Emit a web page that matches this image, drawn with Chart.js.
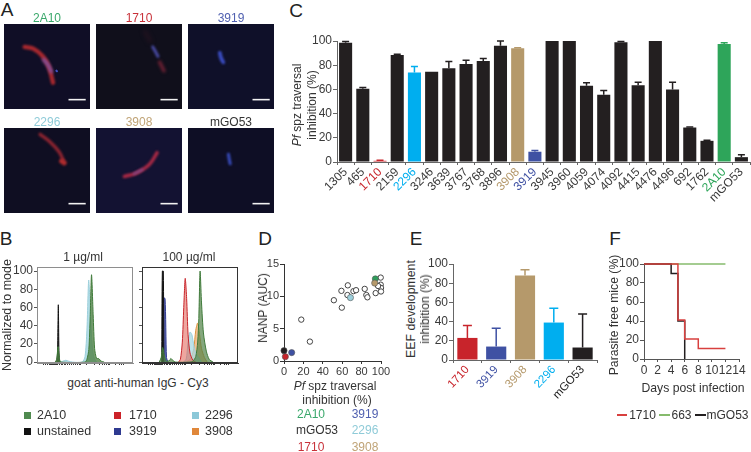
<!DOCTYPE html>
<html><head><meta charset="utf-8">
<style>
html,body{margin:0;padding:0;background:#fff;overflow:hidden}
#stage{position:relative;width:751px;height:452px;font-family:"Liberation Sans",Arial,sans-serif;color:#333}
canvas{position:absolute}
.t{position:absolute;white-space:nowrap;line-height:1;transform:translate(-50%,-50%)}
.r{transform:translate(-50%,-50%) rotate(-90deg)}
.sw{position:absolute;width:7px;height:7px}
.ln{position:absolute;height:1.5px}
</style>
<script src="https://cdn.jsdelivr.net/npm/chart.js@4/dist/chart.umd.js"></script>
</head><body><div id="stage"></div>
<script>
// ---------- Panel C
const cCategories=["1305","465","1710","2159","2296","3246","3639","3767","3768","3896","3908","3919","3945","3960","4059","4074","4092","4415","4476","4496","692","1762","2A10","mGO53"];
const cValues=[98.5,60.5,1,88.5,74,74.5,77.5,81,83.5,96,94,8.5,100,100,63,55.5,99,63.5,100,60,28.5,17.5,97.5,4];
const cErrorTop=[99.5,61.5,1.5,89,79,74.5,83,84,85.5,100,94.5,9.5,100,100,65.5,59,99.5,66,100,66,29,18,98.5,6];
const cColorKeys=["k","k","r","k","c","k","k","k","k","k","t","n","k","k","k","k","k","k","k","k","k","k","g","k"];
const yTicks100=[0,20,40,60,80,100];
// ---------- Panel E
const eCategories=["1710","3919","3908","2296","mGO53"];
const eValues=[23,14,88,39,13];
const eErrorTop=[36,33,94,54,48];
const eColorKeys=["r","n","t","c","k"];
// ---------- Panel F
const fDays1710=[0,5,6,8,12], fFree1710=[100,41,21,11,11];
const fDays663=[0,12], fFree663=[100,100];
const fDaysMGO=[0,4,5,6], fFreeMGO=[100,90,40,0];
// ---------- Panel D
const dOtherX=[17.8,26.7,51.4,59.2,59.6,65.8,65.4,71.6,74.3,83.2,84.9,86,94.5,99.7,99.7,100,100,97];
const dOtherY=[6.4,3.0,9.4,10.85,8.25,11.7,10.2,10.8,10.95,11.15,10.2,9.85,10.5,12.9,11.8,11.3,10.75,11.6];
const dKeyX=[94.2,93.5,68.5,7.9,1.4,0];
const dKeyY=[12.7,12.05,9.8,1.3,0.67,1.6];
const dKeyColors=["g","t","l","n","r","k"];
// ---------- Panel B (x = percent of the channel range, y = normalized to mode)
const bTicksX=[7,9,11,13,14,15,16,17,18,19,20,21,23,25,27,29,30,32,34,36,38,40,42,44,45,52,60,65,68,70,72,74,75,82,86,88,90];
const b1Unstained=[[20.5,0],[21.4,10],[22.2,63],[22.9,10],[23.6,0]];
const b1Green=[[19,0],[20.5,3],[22,17],[23.5,3],[25,0],[50,0],[52,3],[54,14],[55.4,50],[56.8,96],[58.5,52],[60,15],[62,4],[64,4],[67,1],[70,0]];
const b1Cyan=[[24,0],[27,1],[30,2],[33,1],[37,0],[47,0],[50,6],[52,35],[53.8,90],[55,70],[57,25],[59,6],[62,0]];
const b2Unstained=[[20.5,0],[21.2,100],[22.2,100],[22.8,0]];
const b2Navy=[[21.5,0],[22,70],[24,70],[25.5,5],[27,0]];
const b2Green=[[18,0],[20,5],[21.5,16],[23,8],[25,1],[27,1],[29,2],[30,4],[32,2],[35,0],[50,0],[53,1],[56,6],[58,22],[59.2,48],[60.5,100],[62,65],[64,32],[67,12],[70,3],[74,0]];
const b2Red=[[38,0],[40,3],[42,22],[43.5,60],[45,92],[46.5,70],[48,30],[50,10],[53,2],[56,0]];
const b2Cyan=[[43,0],[46,3],[48,22],[50,33],[52,30],[54,18],[56,10],[59,5],[62,0]];
const b2Orange=[[46,0],[50,3],[52,7],[54,15],[56,35],[58,43],[60,30],[62,15],[65,5],[68,0]];
const bYTicks=[0,20,40,60,80,100];
// ---------- Panel A (micrograph strokes, percent of the image)
const a2A10Red=[[24,27],[34,29],[45,38],[52,50],[57,69]];
const a2A10Blue=[[46,42],[51,48],[55,56]];
const a2A10Dot=[[61,55],[61.5,55.5]];
const a1710Blue=[[66,27],[70,34],[72,38]];
const a1710Red=[[74,45],[79,55]];
const a1710Faint=[[57,9],[63,20]];
const a3919Blue=[[37,34],[38.5,40],[41,45]];
const a2296Red=[[42,7.5],[53,16],[64,28],[69,38]];
const a2296Blob=[[67,39],[70,41]];
const a3908Red=[[33,57],[47,53],[62,43],[71,29]];
const a3908Blue=[[44,54],[54,49]];
const aMGOBlue=[[47,31],[48,37],[49,42]];
const aScaleX=[75,95];

const pal={k:"#231f20",r:"#c8242b",c:"#00aeef",t:"#b5996b",n:"#3f51a3",g:"#2ea55a",l:"#9ccfdb"};
Chart.defaults.font.family='"Liberation Sans",Arial,sans-serif';
Chart.defaults.font.size=12;
Chart.defaults.color="#3a3a3a";
Chart.defaults.animation=false;
Chart.defaults.responsive=false;
Chart.defaults.devicePixelRatio=1;
Chart.defaults.plugins.legend.display=false;
Chart.defaults.plugins.tooltip.enabled=false;
Chart.defaults.events=[];

const stage=document.getElementById("stage");
const pts=(xs,ys)=>xs.map((x,i)=>({x,y:ys[i]}));
const pairs=a=>a.map(p=>({x:p[0],y:p[1]}));

const errorBars={id:"errorBars",afterDatasetsDraw(ch){
  const ctx=ch.ctx,ds=ch.data.datasets[0],m=ch.getDatasetMeta(0),ys=ch.scales.y;
  if(!ds.errorTop)return;
  ctx.save();ctx.lineWidth=1.5;
  m.data.forEach((b,i)=>{
    if(ds.errorTop[i]<=ds.data[i])return;
    const c=ds.backgroundColor[i],top=ys.getPixelForValue(ds.errorTop[i]),w=ds.capHalf;
    ctx.strokeStyle=c;ctx.beginPath();
    ctx.moveTo(b.x,b.y);ctx.lineTo(b.x,top);ctx.moveTo(b.x-w,top);ctx.lineTo(b.x+w,top);ctx.stroke();
  });ctx.restore();
}};
const frame={id:"frame",afterDraw(ch){
  const col=ch.options.plugins.frame&&ch.options.plugins.frame.color;if(!col)return;
  const a=ch.chartArea,c=ch.ctx;c.save();c.strokeStyle=col;c.lineWidth=1;
  c.strokeRect(a.left+.5,a.top+.5,a.right-a.left-1,a.bottom-a.top-1);c.restore();
}};
const backdrop={id:"backdrop",beforeDraw(ch){
  const col=ch.options.plugins.backdrop&&ch.options.plugins.backdrop.color;if(!col)return;
  const c=ch.ctx;c.save();c.fillStyle=col;c.fillRect(0,0,ch.width,ch.height);c.restore();
},beforeDatasetDraw(ch,args){
  const b=ch.data.datasets[args.index].blur;if(b){ch.ctx.save();ch.ctx.filter="blur("+b+"px)";}
},afterDatasetDraw(ch,args){
  if(ch.data.datasets[args.index].blur){ch.ctx.restore();}
}};
Chart.register(errorBars,frame,backdrop);

function place(plot,pad,cfg){
  const c=document.createElement("canvas");
  c.width=plot.r-plot.l+pad.l+pad.r;c.height=plot.b-plot.t+pad.t+pad.b;
  c.style.left=(plot.l-pad.l)+"px";c.style.top=(plot.t-pad.t)+"px";
  stage.appendChild(c);
  cfg.options=cfg.options||{};
  cfg.options.layout={padding:{top:pad.t,right:pad.r,left:0,bottom:0}};
  const s=cfg.options.scales;
  if(s&&s.x&&s.x.display!==false)s.x.afterFit=a=>{a.height=pad.b;a.paddingLeft=0;a.paddingRight=0;};
  if(s&&s.y&&s.y.display!==false)s.y.afterFit=a=>{a.width=pad.l;a.paddingTop=0;a.paddingBottom=0;};
  return new Chart(c,cfg);
}
function axisY(extra,lineCol){return Object.assign({
  min:0,max:100,afterBuildTicks:a=>{a.ticks=yTicks100.map(v=>({value:v}));},
  grid:{drawOnChartArea:false,tickLength:4,color:lineCol||"#666",lineWidth:1},
  border:{color:lineCol||"#666",width:1},
  ticks:{padding:1,font:{size:12},autoSkip:false}},extra||{});}
function axisX(extra,lineCol){return Object.assign({
  grid:{drawOnChartArea:false,tickLength:3,color:lineCol||"#666",lineWidth:1},
  border:{color:lineCol||"#666",width:1}},extra||{});}

// Panel C bars
place({l:337,t:41,r:750,b:162},{l:34,t:10,r:1,b:50},{type:"bar",
  data:{labels:cCategories,datasets:[{data:cValues,errorTop:cErrorTop,capHalf:3.5,backgroundColor:cColorKeys.map(k=>pal[k]),barPercentage:.76,categoryPercentage:1}]},
  options:{scales:{y:axisY(),x:axisX({ticks:{autoSkip:false,minRotation:45,maxRotation:45,padding:0,font:{size:12},color:cColorKeys.map(k=>k==="k"?"#3a3a3a":pal[k])}})}}});

// Panel E bars
place({l:453,t:264,r:597,b:360},{l:30,t:10,r:2,b:60},{type:"bar",
  data:{labels:eCategories,datasets:[{data:eValues,errorTop:eErrorTop,capHalf:4.5,backgroundColor:eColorKeys.map(k=>pal[k]),barPercentage:.7,categoryPercentage:1}]},
  options:{scales:{y:axisY(),x:axisX({ticks:{autoSkip:false,minRotation:47,maxRotation:47,padding:0,font:{size:11.5},color:eColorKeys.map(k=>k==="k"?"#222":pal[k])}})}}});

// Panel F survival (first dataset is painted last)
const fLine=(xs,ys,col)=>({data:pts(xs,ys),borderColor:col,borderWidth:1.5,pointRadius:0,showLine:true,stepped:"before",fill:false,clip:false});
place({l:644,t:264,r:739,b:359},{l:30,t:10,r:11,b:20},{type:"scatter",
  data:{datasets:[fLine(fDays1710,fFree1710,"#d8403f"),fLine(fDaysMGO,fFreeMGO,"#231f20"),fLine(fDays663,fFree663,"#86bb6c")]},
  options:{scales:{y:axisY({},"#555"),x:axisX({type:"linear",min:0,max:14,ticks:{stepSize:2,padding:1,font:{size:12},maxRotation:0,autoSkip:false}},"#555")}}});

// Panel D scatter
const dY=axisY({min:0,max:15,afterBuildTicks:a=>{a.ticks=[0,5,10,15].map(v=>({value:v}));},ticks:{padding:1,font:{size:11},autoSkip:false}},"#333");
place({l:284,t:264,r:381,b:361},{l:24,t:10,r:14,b:20},{type:"scatter",
  data:{datasets:[
    {data:pts(dKeyX,dKeyY),backgroundColor:dKeyColors.map(k=>k==="g"?"#2f9e5c":k==="n"?"#3f51a3":pal[k]),borderColor:"#555",borderWidth:.6,pointRadius:3.1,clip:false},
    {data:pts(dOtherX,dOtherY),backgroundColor:"#fff",borderColor:"#444",borderWidth:1,pointRadius:2.7,clip:false}]},
  options:{scales:{y:dY,x:axisX({type:"linear",min:0,max:100,ticks:{stepSize:20,padding:1,font:{size:11},maxRotation:0,autoSkip:false}},"#333")}}});

// Panel B histograms (first dataset is painted last)
function flow(rec,col,fill,w){return {data:pairs(rec),borderColor:col,backgroundColor:fill,borderWidth:w||1,pointRadius:0,showLine:true,fill:{value:0},tension:.25,clip:true};}
function flowChart(plot,pad,datasets,frameCol,showY){
  return place(plot,pad,{type:"scatter",data:{datasets},options:{
    plugins:{frame:{color:frameCol}},
    scales:{
      y:{min:-1,max:104.5,afterBuildTicks:a=>{a.ticks=bYTicks.map(v=>({value:v}));},
         grid:{drawOnChartArea:false,tickLength:3,color:"#555"},border:{color:frameCol},
         ticks:{display:showY,padding:1,font:{size:12},autoSkip:false}},
      x:{type:"linear",min:0,max:100,afterBuildTicks:a=>{a.ticks=bTicksX.map(v=>({value:v}));},
         grid:{drawOnChartArea:false,tickLength:2,color:"#333"},border:{color:frameCol},
         ticks:{display:false}}}}});
}
flowChart({l:37,t:267,r:133,b:363},{l:36,t:8,r:1,b:6},[
  flow(b1Green,"#3f7a3a","rgba(80,130,70,.8)"),
  flow(b1Unstained,"#111","#111",1),
  flow(b1Cyan,"#9ccfdb","rgba(160,212,224,.8)")],"#8e8e8e",true);
flowChart({l:142,t:267,r:238,b:363},{l:6,t:8,r:1,b:6},[
  flow(b2Green,"#3f7a3a","rgba(80,130,70,.7)"),
  flow(b2Unstained,"#111","#111",1),
  flow(b2Navy,"#2f3a90","rgba(60,70,160,.85)"),
  flow(b2Red,"#c8242b","rgba(224,92,80,.55)"),
  flow(b2Cyan,"#9ccfdb","rgba(170,216,226,.75)"),
  flow(b2Orange,"#dc9440","rgba(232,160,90,.65)")],"#333",false);

// Panel A micrographs (first dataset is painted last)
function stroke(rec,col,w,blur){return {data:pairs(rec),borderColor:col,borderWidth:w,pointRadius:0,showLine:true,tension:.4,borderCapStyle:"round",blur:blur===undefined?1:blur,fill:false};}
function micro(x,y,bg,strokes){
  strokes.unshift({data:aScaleX.map(v=>({x:v,y:89})),borderColor:"#f2f2f2",borderWidth:1.6,pointRadius:0,showLine:true,fill:false});
  place({l:x,t:y,r:x+86,b:y+85},{l:0,t:0,r:0,b:0},{type:"scatter",data:{datasets:strokes},options:{
    plugins:{backdrop:{color:bg}},
    layout:{},scales:{x:{display:false,min:0,max:100},y:{display:false,min:0,max:100,reverse:true}}}});
}
micro(4,24,"#100e26",[stroke(a2A10Dot,"#3d4fc0",2.2,.6),stroke(a2A10Blue,"#80509c",3.5,1.4),stroke(a2A10Red,"#a8282e",4.4)]);
micro(96,24,"#100f1b",[stroke(a1710Blue,"#45469a",3.2,1),stroke(a1710Red,"#6a2032",3.6,1.4),stroke(a1710Faint,"#241320",3.5,2)]);
micro(188,24,"#0f1029",[stroke(a3919Blue,"#3a4cc0",3.8,.9)]);
micro(4,128,"#0f0e22",[stroke(a2296Blob,"#b02c2e",5,1),stroke(a2296Red,"#8c2430",3.4,1.2)]);
micro(96,128,"#131232",[stroke(a3908Blue,"#80447f",2.6,1.2),stroke(a3908Red,"#a62844",3.6,1.1)]);
micro(188,128,"#0e0e25",[stroke(aMGOBlue,"#384cbc",3,.9)]);

// Text
function T(s,x,y,size,col,rot,html){
  const d=document.createElement("div");d.className="t"+(rot?" r":"");
  if(html)d.innerHTML=s;else d.textContent=s;
  d.style.left=x+"px";d.style.top=y+"px";d.style.fontSize=size+"px";d.style.color=col||"#333";stage.appendChild(d);
}
[["A",7,9],["B",6,238],["C",296,10],["D",265,238],["E",416,238],["F",615,238]].forEach(a=>T(a[0],a[1],a[2],19,"#222"));
[["2A10",47,18,"#3aa86b"],["1710",139,18,"#c8323a"],["3919",231,18,"#5060b0"],["2296",47,122,"#8fcbd8"],["3908",139,122,"#c0a477"],["mGO53",231,122,"#333"]].forEach(a=>T(a[0],a[1],a[2],12,a[3]));
T("<i>Pf</i> spz traversal",297,105,12,"#333",true,true);T("inhibition (%)",312,105,12,"#333",true);
T("1 µg/ml",83,257,12);T("100 µg/ml",189,257,12);
T("Normalized to mode",7,315,12.5,"#333",true);T("goat anti-human IgG - Cy3",138,383,12);
T("NANP (AUC)",263,308,12,"#333",true);
T("<i>Pf</i> spz traversal",335,386,12,"#333",false,true);T("inhibition (%)",337,400,12);
T("EEF development",411,309,12.3,"#333",true);T("inhibition (%)",425,309,12,"#333",true);
T("Parasite free mice (%)",614,315,12.2,"#333",true);T("Days post infection",693,388,12.2);
// Panel B legend
[["2A10",37,415,27,"#4f8a4f"],["unstained",37,431,27,"#111"],["1710",129,415,117,"#cc2229"],["3919",129,431,117,"#2f3a90"],["2296",205,415,195,"#8cc8d8"],["3908",205,431,195,"#e0873a"]].forEach(a=>{
  const s=document.createElement("div");s.className="sw";s.style.left=(a[3]-3.5)+"px";s.style.top=(a[2]-3.5)+"px";s.style.background=a[4];stage.appendChild(s);
  const d=document.createElement("div");d.className="t";d.style.transform="translate(0,-50%)";d.style.left=a[1]+"px";d.style.top=a[2]+"px";d.style.fontSize="12.5px";d.textContent=a[0];stage.appendChild(d);
});
// Panel D key
[["2A10",311,414,"#3aa86b"],["3919",365,414,"#5060b0"],["mGO53",317,430,"#333"],["2296",365,430,"#8fcbd8"],["1710",311,447,"#c8323a"],["3908",365,447,"#c0a477"]].forEach(a=>T(a[0],a[1],a[2],12,a[3]));
// Panel F legend
[["1710",642.5,617,10,"#d8403f"],["663",681.5,659,11,"#86bb6c"],["mGO53",727.5,695,11,"#231f20"]].forEach(a=>{
  const l=document.createElement("div");l.className="ln";l.style.left=a[2]+"px";l.style.top="414px";l.style.width=a[3]+"px";l.style.background=a[4];stage.appendChild(l);
  T(a[0],a[1],415,12);
});
</script></body></html>
